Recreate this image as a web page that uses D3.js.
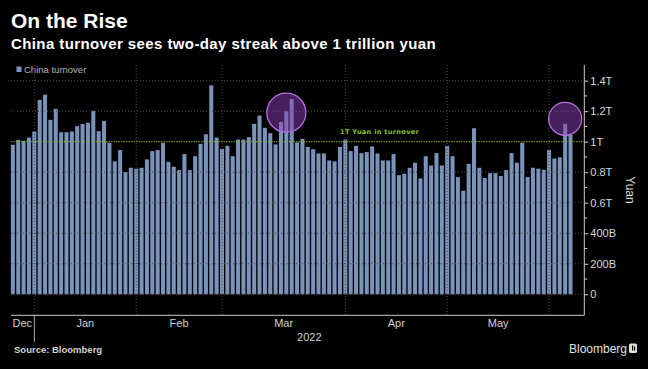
<!DOCTYPE html>
<html><head><meta charset="utf-8">
<script src="https://cdn.jsdelivr.net/npm/d3@7/dist/d3.min.js"></script>
<style>body{margin:0;background:#000}svg{display:block}</style>
</head><body><svg id="chart" width="648" height="369"></svg>
<script>
// ---- data ----
const dates = [
 "2021-12-28","2021-12-29","2021-12-30","2021-12-31",
 "2022-01-04","2022-01-05","2022-01-06","2022-01-07","2022-01-10","2022-01-11","2022-01-12","2022-01-13","2022-01-14",
 "2022-01-17","2022-01-18","2022-01-19","2022-01-20","2022-01-21","2022-01-24","2022-01-25","2022-01-26","2022-01-27","2022-01-28",
 "2022-02-07","2022-02-08","2022-02-09","2022-02-10","2022-02-11","2022-02-14","2022-02-15","2022-02-16","2022-02-17","2022-02-18",
 "2022-02-21","2022-02-22","2022-02-23","2022-02-24","2022-02-25","2022-02-28",
 "2022-03-01","2022-03-02","2022-03-03","2022-03-04","2022-03-07","2022-03-08","2022-03-09","2022-03-10","2022-03-11",
 "2022-03-14","2022-03-15","2022-03-16","2022-03-17","2022-03-18","2022-03-21","2022-03-22","2022-03-23","2022-03-24","2022-03-25",
 "2022-03-28","2022-03-29","2022-03-30","2022-03-31",
 "2022-04-01","2022-04-06","2022-04-07","2022-04-08","2022-04-11","2022-04-12","2022-04-13","2022-04-14","2022-04-15",
 "2022-04-18","2022-04-19","2022-04-20","2022-04-21","2022-04-22","2022-04-25","2022-04-26","2022-04-27","2022-04-28","2022-04-29",
 "2022-05-05","2022-05-06","2022-05-09","2022-05-10","2022-05-11","2022-05-12","2022-05-13","2022-05-16","2022-05-17","2022-05-18",
 "2022-05-19","2022-05-20","2022-05-23","2022-05-24","2022-05-25","2022-05-26","2022-05-27","2022-05-30","2022-05-31",
 "2022-06-01","2022-06-02","2022-06-06","2022-06-07","2022-06-08"
];
// China turnover, trillion yuan
const turnover = [
 0.980,1.012,1.006,1.027,
 1.067,1.274,1.308,1.143,1.215,1.062,1.062,1.067,1.102,
 1.117,1.124,1.202,1.069,1.136,0.993,0.871,0.945,0.801,0.829,
 0.823,0.829,0.884,0.938,0.945,0.993,0.868,0.836,0.814,0.919,
 0.814,0.905,0.986,1.049,1.369,1.027,
 0.953,0.973,0.905,1.014,1.014,1.030,1.117,1.171,1.091,
 1.056,0.982,1.130,1.200,1.280,0.995,1.019,0.966,0.951,0.923,
 0.923,0.877,0.871,0.966,
 1.014,0.938,0.973,0.925,0.932,0.969,0.923,0.877,0.877,
 0.919,0.781,0.790,0.829,0.862,0.759,0.905,0.844,0.925,0.844,
 0.973,0.905,0.768,0.679,0.855,1.088,0.829,0.762,0.794,0.794,
 0.775,0.814,0.925,0.862,0.993,0.768,0.829,0.823,0.816,
 0.945,0.890,0.897,1.117,1.047
];
const yTicks = [0,0.2,0.4,0.6,0.8,1,1.2,1.4];
const yTickLabels = ["0","200B","400B","0.6T","0.8T","1T","1.2T","1.4T"];
const monthKeys = ["2021-12","2022-01","2022-02","2022-03","2022-04","2022-05","2022-06"];
const monthLabels = ["Dec","Jan","Feb","Mar","Apr","May",""];
const yearLabel = "2022";
const threshold = 1;
const thresholdLabel = "1T Yuan in turnover";
const highlightDates = ["2022-03-17","2022-06-07"];
const highlightValues = [1.19,1.15];
const highlightRadii = [19.5,16.5];

// ---- chart ----
const svg = d3.select("#chart");
svg.append("rect").attr("width",648).attr("height",369).attr("fill","#000");
const FONT = "'Liberation Sans', Arial, sans-serif";
const barColor = "#7a93ba";

const x = d3.scaleBand().domain(dates).range([10.2,573.2]).paddingInner(0.25).paddingOuter(0.125);
const y = d3.scaleLinear().domain([0,1.5]).range([294.3,65.4]);
const axisX = 584.3, plotLeft = 11, bottomY = 315.3;
const cx = d => x(d) + x.bandwidth()/2;

// title
svg.append("text").attr("x",11).attr("y",28).text("On the Rise")
  .attr("font-family",FONT).attr("font-weight","bold").attr("font-size",21).attr("fill","#fff");
svg.append("text").attr("x",11).attr("y",49).text("China turnover sees two-day streak above 1 trillion yuan")
  .attr("font-family",FONT).attr("font-weight","bold").attr("font-size",15).attr("letter-spacing",0.4).attr("fill","#fff");

// legend
svg.append("rect").attr("x",16.5).attr("y",66.5).attr("width",5).attr("height",5.5).attr("fill",barColor);
svg.append("text").attr("x",24).attr("y",72.5).text("China turnover")
  .attr("font-family",FONT).attr("font-size",9.5).attr("fill","#b0b0b0");

// bars
svg.append("g").selectAll("rect").data(dates).join("rect")
  .attr("x",d=>x(d)).attr("width",x.bandwidth())
  .attr("y",(d,i)=>y(turnover[i])).attr("height",(d,i)=>y(0)-y(turnover[i]))
  .attr("fill",barColor);

// horizontal grid
svg.append("g").selectAll("line").data(yTicks.filter(t=>t!==threshold)).join("line")
  .attr("x1",plotLeft).attr("x2",axisX).attr("y1",d=>y(d)).attr("y2",d=>y(d))
  .attr("stroke","#4a4a4a").attr("stroke-width",1).attr("stroke-dasharray","1,2");

// month ticks / vertical grid
const firstIdx = monthKeys.map(k => dates.findIndex(d => d.startsWith(k)));
const tickIdx = firstIdx.slice(1);
svg.append("g").selectAll("line").data(tickIdx).join("line")
  .attr("x1",i=>cx(dates[i])).attr("x2",i=>cx(dates[i])).attr("y1",65).attr("y2",bottomY)
  .attr("stroke","#4a4a4a").attr("stroke-width",1).attr("stroke-dasharray","1,2");

// threshold line
svg.append("line").attr("x1",plotLeft).attr("x2",axisX).attr("y1",y(threshold)).attr("y2",y(threshold))
  .attr("stroke","#7fb020").attr("stroke-width",1).attr("stroke-dasharray","1.5,1");
svg.append("text").attr("x",340).attr("y",y(threshold)-7.5).text(thresholdLabel)
  .attr("font-family","'DejaVu Sans', sans-serif").attr("font-weight","bold").attr("font-size",6.6)
  .attr("letter-spacing",0.3).attr("fill","#8cc21e");

// highlight circles
svg.append("g").selectAll("circle").data(highlightDates).join("circle")
  .attr("cx",d=>cx(d)).attr("cy",(d,i)=>y(highlightValues[i])).attr("r",(d,i)=>highlightRadii[i])
  .attr("fill","#8a3fb8").attr("fill-opacity",0.5).attr("stroke","#b86ee0").attr("stroke-width",1.3);

// right axis
const yAxis = d3.axisRight(y).tickValues(yTicks).tickSize(4).tickPadding(2)
  .tickFormat((d,i)=>yTickLabels[i]);
const ga = svg.append("g").attr("transform",`translate(${axisX},0)`).call(yAxis);
ga.select(".domain").remove();
ga.selectAll(".tick line").attr("stroke","#ccc");
ga.selectAll(".tick text").attr("font-family",FONT).attr("font-size",11).attr("fill","#d8d8d8");
// minor ticks
const minor = d3.range(0.1,1.5,0.2);
svg.append("g").selectAll("line").data(minor).join("line")
  .attr("x1",axisX).attr("x2",axisX+3).attr("y1",d=>y(d)).attr("y2",d=>y(d)).attr("stroke","#ccc");
svg.append("line").attr("x1",axisX).attr("x2",axisX).attr("y1",65).attr("y2",bottomY).attr("stroke","#ccc");
svg.append("text").attr("transform",`translate(626,190) rotate(90)`).attr("text-anchor","middle")
  .text("Yuan").attr("font-family",FONT).attr("font-size",12).attr("fill","#d8d8d8");

// bottom axis
svg.append("line").attr("x1",plotLeft).attr("x2",axisX).attr("y1",bottomY).attr("y2",bottomY).attr("stroke","#ccc");
const bounds = firstIdx.map((i,k)=> k===0 ? x.range()[0] : cx(dates[i]));
bounds.push(axisX);
monthLabels.forEach((m,k)=>{
  if(!m) return;
  svg.append("text").attr("x",(bounds[k]+bounds[k+1])/2).attr("y",327).attr("text-anchor","middle")
    .text(m).attr("font-family",FONT).attr("font-size",11).attr("fill","#d0d0d0");
});
const yearX = cx(dates[firstIdx[1]]);
svg.append("line").attr("x1",yearX).attr("x2",yearX).attr("y1",bottomY).attr("y2",342).attr("stroke","#aaa");
svg.append("text").attr("x",(yearX+axisX)/2).attr("y",340.5).attr("text-anchor","middle")
  .text(yearLabel).attr("font-family",FONT).attr("font-size",11).attr("fill","#d0d0d0");

// footer
svg.append("text").attr("x",14).attr("y",353).text("Source: Bloomberg")
  .attr("font-family",FONT).attr("font-weight","bold").attr("font-size",9.5).attr("fill","#d0d0d0");
svg.append("text").attr("x",627).attr("y",353).attr("text-anchor","end").text("Bloomberg")
  .attr("font-family",FONT).attr("font-size",12).attr("fill","#e0e0e0");
svg.append("rect").attr("x",629).attr("y",343.5).attr("width",8).attr("height",9.5).attr("rx",1.5).attr("fill","#e0e0e0");
svg.append("rect").attr("x",632).attr("y",345.5).attr("width",1.2).attr("height",5).attr("fill","#000");
svg.append("rect").attr("x",634).attr("y",346.5).attr("width",1.2).attr("height",4).attr("fill","#000");
</script></body></html>
